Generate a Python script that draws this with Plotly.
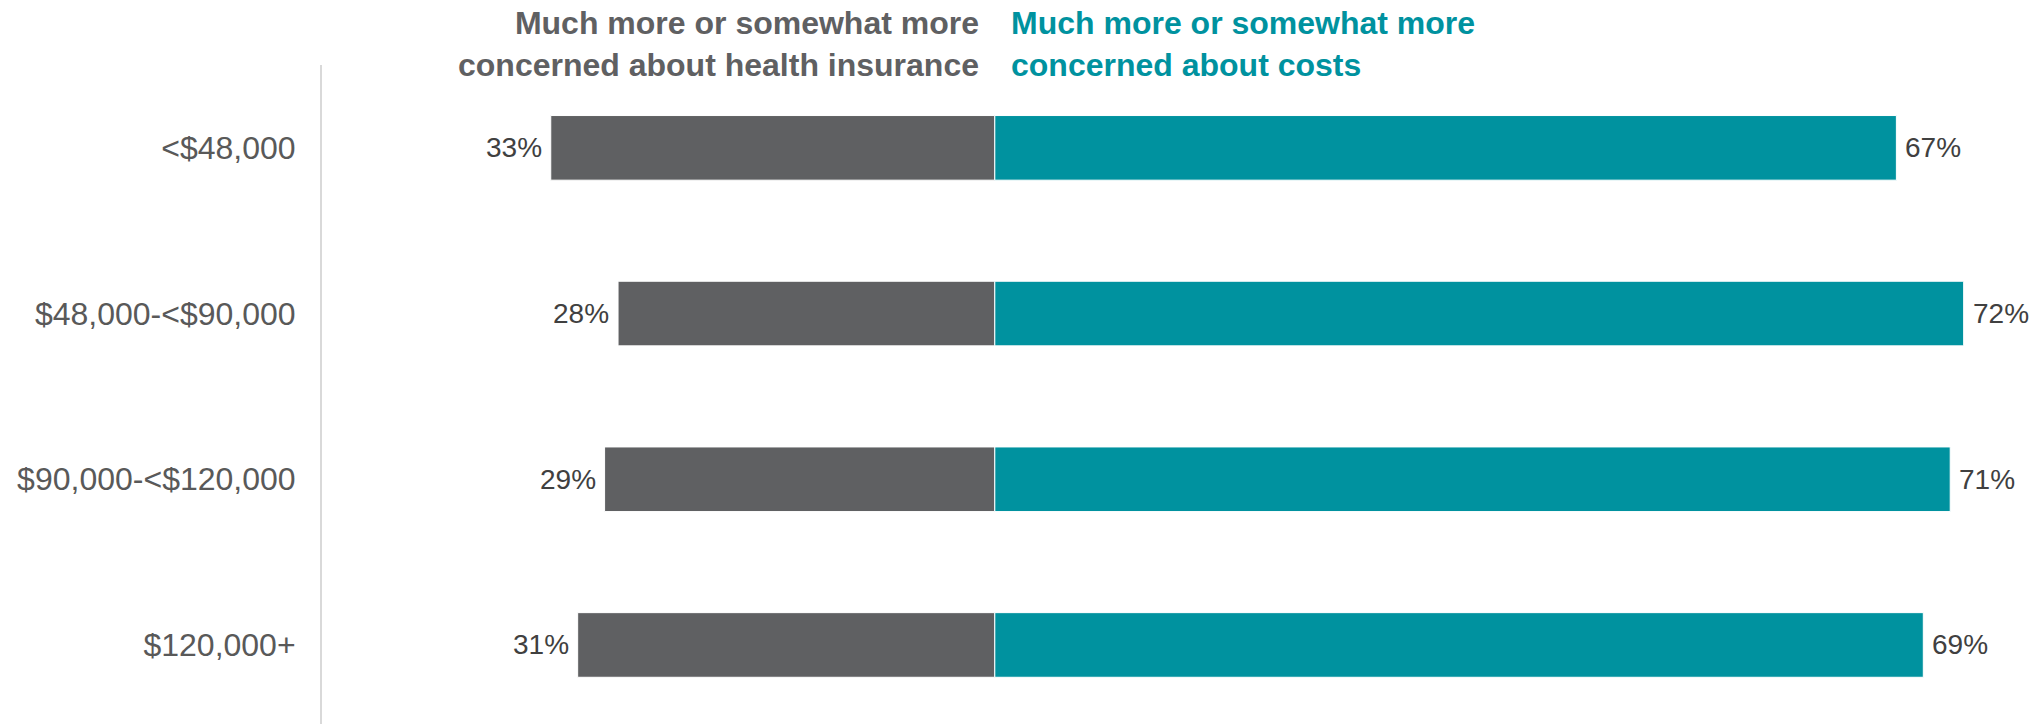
import plotly.graph_objects as go

# Income groups and shares of respondents by which concern dominates
categories = ["<$48,000", "$48,000-<$90,000", "$90,000-<$120,000", "$120,000+"]
insurance_pct = [33, 28, 29, 31]
costs_pct = [67, 72, 71, 69]

insurance_label = "Much more or somewhat more<br>concerned about health insurance"
costs_label = "Much more or somewhat more<br>concerned about costs"

GRAY = "#5f6062"
TEAL = "#00929f"
FONT = "Liberation Sans, Arial, sans-serif"

fig = go.Figure()

# Health-insurance side drawn to the left of zero
fig.add_trace(go.Bar(
    y=categories,
    x=[-v for v in insurance_pct],
    orientation="h",
    marker=dict(color=GRAY, line=dict(color="white", width=1)),
    width=0.39,
    hoverinfo="skip",
    showlegend=False,
))

# Costs side drawn to the right of zero
fig.add_trace(go.Bar(
    y=categories,
    x=costs_pct,
    orientation="h",
    marker=dict(color=TEAL, line=dict(color="white", width=1)),
    width=0.39,
    hoverinfo="skip",
    showlegend=False,
))

annotations = []
for cat, v in zip(categories, insurance_pct):
    annotations.append(dict(
        x=-v, y=cat, xref="x", yref="y", text=f"{v}%", showarrow=False,
        xanchor="right", yanchor="middle", xshift=-7,
        font=dict(family=FONT, size=28, color="#404040"),
    ))
for cat, v in zip(categories, costs_pct):
    annotations.append(dict(
        x=v, y=cat, xref="x", yref="y", text=f"{v}%", showarrow=False,
        xanchor="left", yanchor="middle", xshift=7,
        font=dict(family=FONT, size=28, color="#404040"),
    ))

# Column headers on either side of the zero line
annotations.append(dict(
    x=0, y=1.094, xref="x", yref="paper", text=f"<b>{insurance_label}</b>",
    showarrow=False, xanchor="right", yanchor="top", align="right", xshift=-14,
    font=dict(family=FONT, size=32, color="#5f6062"),
))
annotations.append(dict(
    x=0, y=1.094, xref="x", yref="paper", text=f"<b>{costs_label}</b>",
    showarrow=False, xanchor="left", yanchor="top", align="left", xshift=14,
    font=dict(family=FONT, size=32, color=TEAL),
))

fig.update_layout(
    width=2044,
    height=724,
    margin=dict(l=322, r=44, t=65, b=0),
    paper_bgcolor="white",
    plot_bgcolor="white",
    barmode="overlay",
    annotations=annotations,
    xaxis=dict(
        range=[-50, 74.7],
        showgrid=False,
        zeroline=False,
        showticklabels=False,
        showline=False,
        fixedrange=True,
    ),
    yaxis=dict(
        type="category",
        categoryorder="array",
        categoryarray=categories,
        range=[3.477, -0.5],
        showgrid=False,
        zeroline=False,
        showline=True,
        linecolor="#d9d9d9",
        linewidth=2,
        ticks="",
        ticklabelstandoff=18,
        tickfont=dict(family=FONT, size=32, color="#595959"),
        fixedrange=True,
    ),
)

fig.write_html("out.html")
